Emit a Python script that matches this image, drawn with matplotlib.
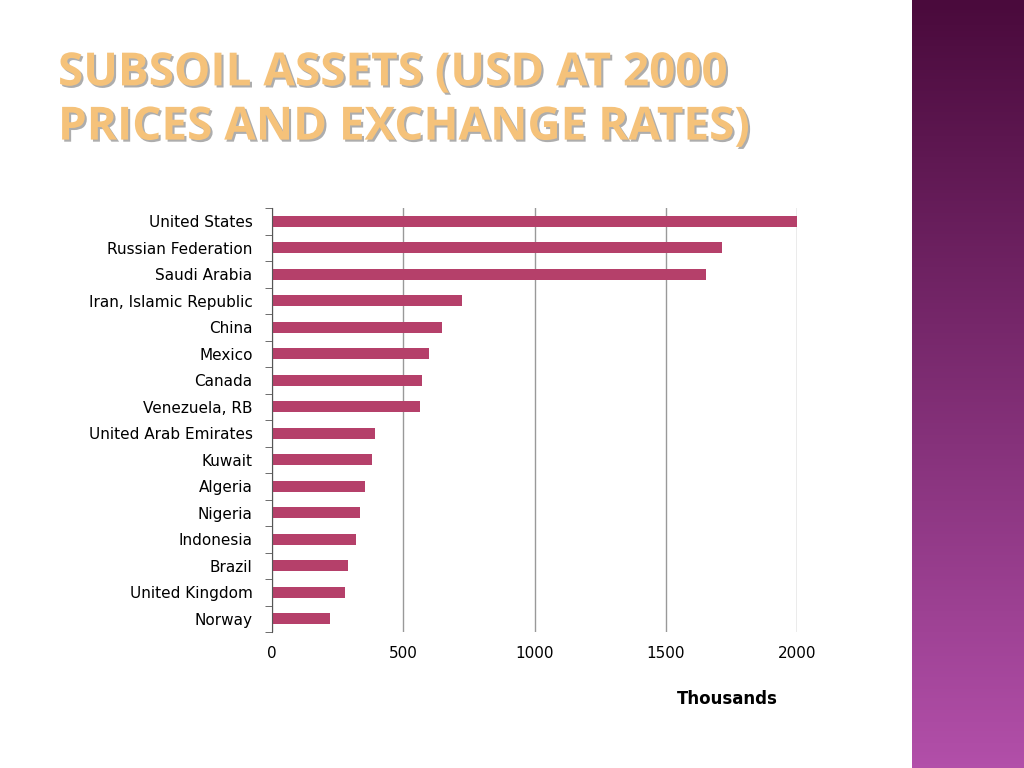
import numpy as np
import matplotlib.pyplot as plt
import matplotlib.patheffects as pe

countries = ['United States', 'Russian Federation', 'Saudi Arabia', 'Iran, Islamic Republic',
             'China', 'Mexico', 'Canada', 'Venezuela, RB', 'United Arab Emirates', 'Kuwait',
             'Algeria', 'Nigeria', 'Indonesia', 'Brazil', 'United Kingdom', 'Norway']
values = [2005, 1714, 1653, 724, 648, 598, 571, 564, 392, 381, 354, 335, 320, 290, 278, 221]

fig = plt.figure(figsize=(10.24, 7.68), dpi=100)

# purple side strip
side = fig.add_axes([912/1024, 0, 112/1024, 1])
grad = np.linspace(0, 1, 256).reshape(-1, 1)
from matplotlib.colors import LinearSegmentedColormap
cmap = LinearSegmentedColormap.from_list('side', ['#b24fa9', '#4a0a3c'])
side.imshow(grad, aspect='auto', cmap=cmap, origin='lower')
side.axis('off')

# title
fig.text(58/1024, 1 - 100/768, 'SUBSOIL ASSETS (USD AT 2000\nPRICES AND EXCHANGE RATES)',
         fontsize=33, fontweight='bold', family='Open Sans', color='#f5c27a',
         va='center', ha='left', linespacing=1.2,
         path_effects=[pe.withSimplePatchShadow(offset=(1.5, -1.5), shadow_rgbFace='#777777', alpha=0.6)])

ax = fig.add_axes([272/1024, 1 - 632/768, 525/1024, 424/768])
y = np.arange(len(countries))
ax.barh(y, values, height=0.42, color='#b5406a')
ax.set_ylim(len(countries) - 0.5, -0.5)
ax.set_xlim(0, 2000)
ax.set_xticks([0, 500, 1000, 1500, 2000])
ax.set_yticks(y)
ax.set_yticklabels(countries)
ax.set_yticks(np.arange(-0.5, len(countries)), minor=True)
ax.tick_params(axis='y', which='major', length=0, pad=14, labelsize=11)
ax.tick_params(axis='y', which='minor', length=5, color='#555555')
ax.tick_params(axis='x', length=0, pad=10, labelsize=11)
ax.grid(axis='x', color='#999999', linewidth=1)
ax.set_axisbelow(True)
for s in ['top', 'right', 'bottom']:
    ax.spines[s].set_visible(False)
ax.spines['left'].set_color('#555555')
fig.text(727/1024, 1 - 699/768, 'Thousands', fontsize=12, fontweight='bold', ha='center', va='center')

fig.savefig('out.png', dpi=100)
